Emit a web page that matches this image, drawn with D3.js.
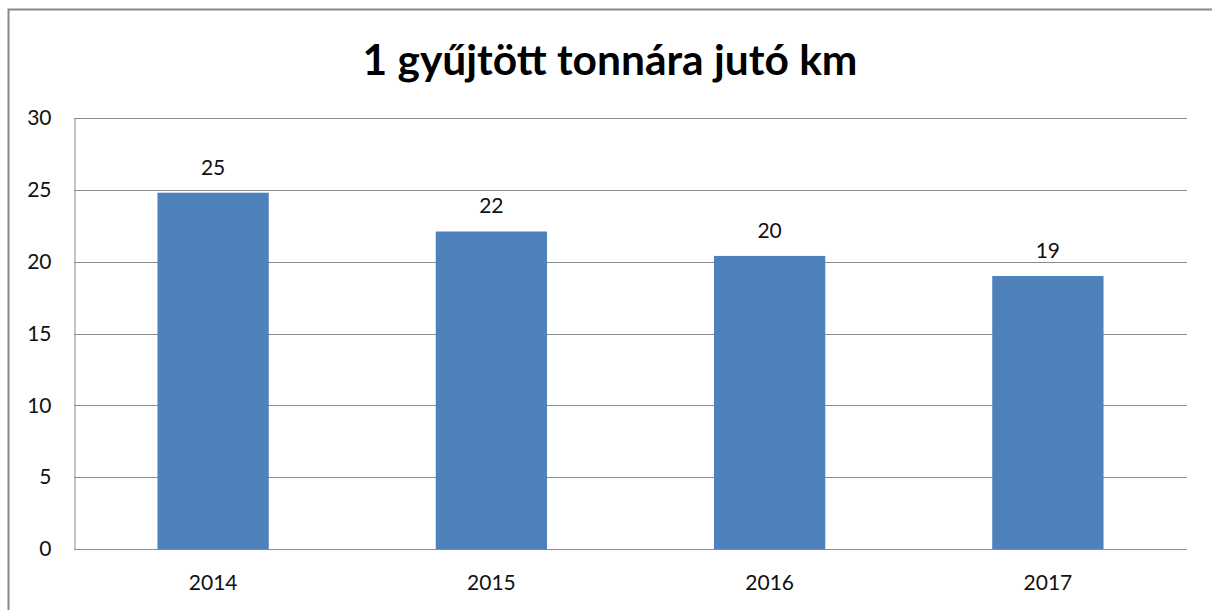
<!DOCTYPE html>
<html>
<head>
<meta charset="utf-8">
<script src="https://cdn.jsdelivr.net/npm/d3@7"></script>
<style>
  body { margin: 0; background: #fff; }
  text { font-family: Lato, "Open Sans", sans-serif; }
</style>
</head>
<body>
<div id="chart"></div>
<script>
// adatok
const evek = ["2014", "2015", "2016", "2017"];
const kmPerTonna = [24.8, 22.1, 20.4, 19.0];
const yTicks = [0, 5, 10, 15, 20, 25, 30];
const cim = "1 gyűjtött tonnára jutó km";

const W = 1212, H = 610;
const plot = { left: 74, right: 1187, top: 118, bottom: 549 };

const svg = d3.select("#chart").append("svg")
    .attr("width", W)
    .attr("height", H);

svg.append("rect")
    .attr("width", W).attr("height", H)
    .attr("fill", "#fff");

// külső keret (jobb és alsó széle kilóg)
svg.append("rect")
    .attr("x", 8.5).attr("y", 9.5)
    .attr("width", W + 20).attr("height", H + 20)
    .attr("fill", "none")
    .attr("stroke", "#888")
    .attr("stroke-width", 2);

svg.append("text")
    .attr("x", 610).attr("y", 75)
    .attr("text-anchor", "middle")
    .attr("font-size", 42.5)
    .attr("font-weight", "bold")
    .attr("fill", "#000")
    .text(cim);

const x = d3.scaleBand()
    .domain(evek)
    .range([plot.left, plot.right])
    .paddingInner(0.6)
    .paddingOuter(0.3);

const y = d3.scaleLinear()
    .domain([0, 30])
    .range([plot.bottom, plot.top]);

// rácsvonalak
svg.append("g")
    .selectAll("line")
    .data(yTicks)
    .enter().append("line")
    .attr("x1", plot.left).attr("x2", plot.right)
    .attr("y1", d => Math.round(y(d)) + 0.5)
    .attr("y2", d => Math.round(y(d)) + 0.5)
    .attr("stroke", "#8c8c8c")
    .attr("stroke-width", 1);

// függőleges tengely
const yAxis = svg.append("g")
    .attr("transform", "translate(" + (plot.left + 0.5) + ",0)")
    .call(d3.axisLeft(y).tickValues(yTicks).tickSize(0).tickPadding(23));
yAxis.select(".domain").attr("stroke", "#8c8c8c");
yAxis.selectAll("text")
    .attr("font-size", 21)
    .attr("fill", "#111")
    .style("font-family", "Lato, sans-serif");

// oszlopok
svg.append("g")
    .selectAll("rect")
    .data(kmPerTonna)
    .enter().append("rect")
    .attr("x", (d, i) => x(evek[i]))
    .attr("y", d => y(d))
    .attr("width", x.bandwidth())
    .attr("height", d => y(0) - y(d))
    .attr("fill", "#4f81bd");

// értékcímkék
svg.append("g")
    .selectAll("text")
    .data(kmPerTonna)
    .enter().append("text")
    .attr("x", (d, i) => x(evek[i]) + x.bandwidth() / 2)
    .attr("y", d => y(d) - 18)
    .attr("text-anchor", "middle")
    .attr("font-size", 21)
    .attr("fill", "#111")
    .text(d3.format(".0f"));

// kategória címkék
const xAxis = svg.append("g")
    .attr("transform", "translate(0," + (plot.bottom + 0.5) + ")")
    .call(d3.axisBottom(x).tickSize(0).tickPadding(26));
xAxis.select(".domain").remove();
xAxis.selectAll("text")
    .attr("font-size", 21)
    .attr("fill", "#111")
    .style("font-family", "Lato, sans-serif");
</script>
</body>
</html>
